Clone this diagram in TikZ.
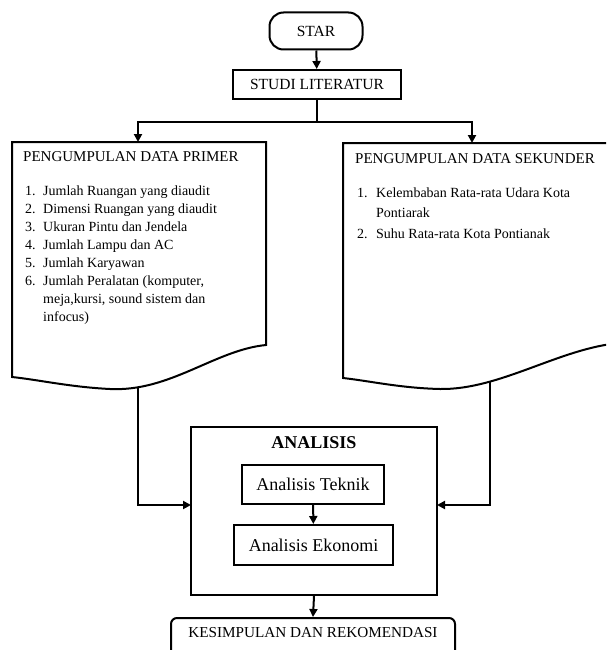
\documentclass[tikz,border=0pt]{standalone}
\usepackage{fontspec}
\setmainfont{Liberation Serif}
\usetikzlibrary{arrows.meta}
\tikzset{
  line/.style={line width=2pt},
  conn/.style={line width=2pt, -{Triangle[width=8pt,length=8pt]}},
  boxln/.style={draw, line width=2pt, inner sep=0pt},
  hdr/.style={anchor=base west, inner sep=0pt, font=\fontsize{15}{16}\selectfont},
  itm/.style={anchor=base west, inner sep=0pt, font=\fontsize{14}{15}\selectfont},
  big/.style={font=\fontsize{18}{20}\selectfont},
  mid/.style={font=\fontsize{15.2}{16}\selectfont},
}
\begin{document}
\begin{tikzpicture}[x=1pt,y=-1pt]
\useasboundingbox (0,0) rectangle (606,650);
\clip (0,0) rectangle (606,650);
\fill[white] (0,0) rectangle (606,650);

% start / literature
\node[boxln, rounded corners=14pt, minimum width=93pt, minimum height=37pt, font=\fontsize{15.5}{16}\selectfont] (star) at (316,31) {STAR};
\node[boxln, minimum width=168pt, minimum height=29pt, font=\fontsize{15.5}{16}\selectfont] (studi) at (317,84.5) {STUDI LITERATUR};
\coordinate (split) at (317,122);

% left document
\draw[line] (12,142) -- (266,142) -- (266,345)
  .. controls (215,350) and (170,392) .. (110,389)
  .. controls (70,387) and (40,380) .. (12,377) -- cycle;
\coordinate (ldtop) at (138,142);
\coordinate (ldbot) at (138,387);
\node[hdr] (lh) at (23,161) {PENGUMPULAN DATA PRIMER};
\node[itm] (l1n) at (25,195) {1.};
\node[itm] (l1) at (43,195) {Jumlah Ruangan yang diaudit};
\node[itm] (l2n) at (25,213) {2.};
\node[itm] (l2) at (43,213) {Dimensi Ruangan yang diaudit};
\node[itm] (l3n) at (25,231) {3.};
\node[itm] (l3) at (43,231) {Ukuran Pintu dan Jendela};
\node[itm] (l4n) at (25,249) {4.};
\node[itm] (l4) at (43,249) {Jumlah Lampu dan AC};
\node[itm] (l5n) at (25,267) {5.};
\node[itm] (l5) at (43,267) {Jumlah Karyawan};
\node[itm] (l6n) at (25,285) {6.};
\node[itm] (l6) at (43,285) {Jumlah Peralatan (komputer,};
\node[itm] (l6b) at (43,303) {meja,kursi, sound sistem dan};
\node[itm] (l6c) at (43,321) {infocus)};

% right document
\draw[line] (343,143) -- (620,143) -- (620,343)
  .. controls (560,348) and (500,390) .. (440,389)
  .. controls (400,388) and (370,381) .. (343,378) -- cycle;
\coordinate (rdtop) at (472,143);
\coordinate (rdbot) at (490,381.5);
\node[hdr] (rh) at (355,163) {PENGUMPULAN DATA SEKUNDER};
\node[itm] (r1n) at (357,197) {1.};
\node[itm] (r1) at (376,197) {Kelembaban Rata-rata Udara Kota};
\node[itm] (r1b) at (376,217.5) {Pontiarak};
\node[itm] (r2n) at (357,238) {2.};
\node[itm] (r2) at (376,238) {Suhu Rata-rata Kota Pontianak};

% analysis
\node[boxln, minimum width=246pt, minimum height=168pt] (ana) at (314,511) {};
\node[font=\fontsize{18}{20}\selectfont\bfseries, inner sep=0pt] (anat) at (314,443) {ANALISIS};
\node[boxln, minimum width=142pt, minimum height=39pt, big] (tek) at (313,484.5) {Analisis Teknik};
\node[boxln, minimum width=159pt, minimum height=40pt, big] (eko) at (313.5,545) {Analisis Ekonomi};
\coordinate (ainl) at (191,505);
\coordinate (ainr) at (437,505);

% conclusion
\node[draw, line width=2pt, rounded corners=6pt, minimum width=284pt, minimum height=63pt, anchor=north, inner sep=0pt] (kes) at (313,617) {};
\node[mid, inner sep=0pt] (kest) at (313,633) {KESIMPULAN DAN REKOMENDASI};

% connectors
\draw[conn] (star) -- (studi);
\draw[line] (studi.south) -- (split);
\draw[conn] (split) -| (ldtop);
\draw[conn] (split) -| (rdtop);
\draw[conn] (ldbot) |- (ainl);
\draw[conn] (rdbot) |- (ainr);
\draw[conn] (tek) -- (eko);
\draw[conn] (ana.south) -- (kes.north);
\end{tikzpicture}
\end{document}
